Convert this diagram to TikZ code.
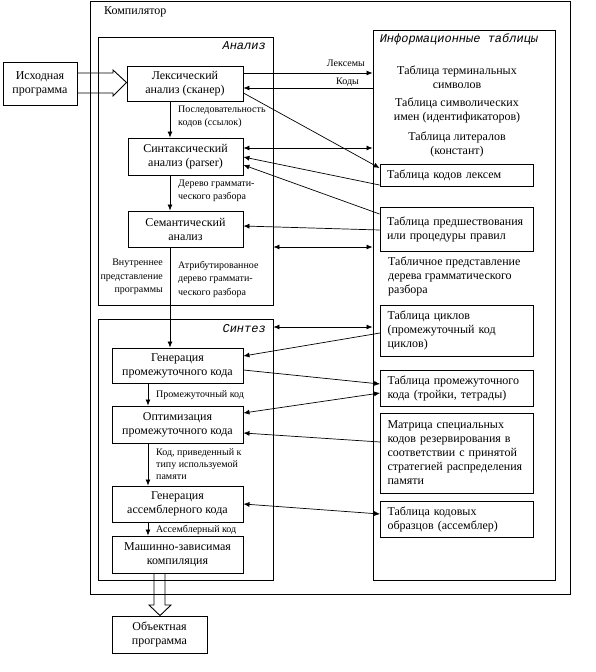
\documentclass[tikz,border=0pt]{standalone}
\usepackage{fontspec}
\setmainfont{Liberation Serif}
\newfontfamily\hdrfont{Liberation Mono}
\usetikzlibrary{arrows.meta}
\begin{document}
\begin{tikzpicture}[x=1pt,y=-1pt,
 frame/.style={draw, line width=0.9pt, inner sep=0pt},
 box/.style={draw, line width=0.9pt, inner sep=0pt, align=center, font=\fontsize{12}{14}\selectfont},
 tbl/.style={draw, line width=0.9pt, inner xsep=7pt, inner ysep=0pt, align=left, text width=139pt, font=\fontsize{12}{14}\selectfont},
 info/.style={inner sep=0pt, align=center, font=\fontsize{12}{14}\selectfont},
 lbl/.style={font=\fontsize{10}{13.5}\selectfont, inner sep=0pt, align=left},
 hdr/.style={font=\hdrfont\itshape\fontsize{12}{14}\selectfont, inner sep=0pt},
 conn/.style={line width=0.7pt, -{Latex[length=6pt,width=5pt]}},
 dconn/.style={line width=0.7pt, {Latex[length=6pt,width=5pt]}-{Latex[length=6pt,width=5pt]}},
 hollow/.style={line width=0.9pt},
]
\useasboundingbox (0,0) rectangle (596,672);
% frames
\node[frame, minimum width=480pt, minimum height=593pt] (comp) at (330,298) {};
\node[frame, minimum width=175pt, minimum height=268pt] (ana) at (185.5,171) {};
\node[frame, minimum width=175pt, minimum height=261pt] (syn) at (185.5,449.5) {};
\node[frame, minimum width=182pt, minimum height=550pt] (inf) at (464,305) {};
\node[anchor=west, inner sep=0pt, font=\fontsize{12}{14}\selectfont] (compt) at (104,12) {Компилятор};
\node[hdr, anchor=east] (anat) at (266,46) {Анализ};
\node[hdr, anchor=east] (synt) at (266,329) {Синтез};
\node[hdr] (inft) at (459,39) {Информационные таблицы};
% left column
\node[box, minimum width=74pt, minimum height=43pt] (src) at (40,83.5) {Исходная\\программа};
\node[box, minimum width=116pt, minimum height=35pt] (lex) at (185,83.5) {Лексический\\анализ (сканер)};
\node[box, minimum width=115pt, minimum height=37pt] (par) at (185.5,156.5) {Синтаксический\\анализ (parser)};
\node[box, minimum width=115pt, minimum height=36pt] (sem) at (185.5,229) {Семантический\\анализ};
\node[box, minimum width=131pt, minimum height=35pt] (gi) at (177.5,365.5) {Генерация\\промежуточного кода};
\node[box, minimum width=131pt, minimum height=37pt] (opt) at (177.5,424.5) {Оптимизация\\промежуточного кода};
\node[box, minimum width=131pt, minimum height=36pt] (ga) at (177.5,504) {Генерация\\ассемблерного кода};
\node[box, minimum width=131pt, minimum height=37pt] (mac) at (177.5,554.5) {Машинно-зависимая\\компиляция};
\node[box, minimum width=95pt, minimum height=37pt] (obj) at (159.5,634.5) {Объектная\\программа};
% labels on left
\node[lbl, anchor=west] (l1) at (178,117) {Последовательность\\кодов (ссылок)};
\node[lbl, anchor=west] (l2) at (178,191) {Дерево граммати-\\ческого разбора};
\node[lbl, anchor=east, align=right] (l3) at (163,277) {Внутреннее\\представление\\программы};
\node[lbl, anchor=west] (l4) at (178,279) {Атрибутированное\\дерево граммати-\\ческого разбора};
\node[lbl, anchor=west] (l5) at (156,395) {Промежуточный код};
\node[lbl, anchor=west, font=\fontsize{10}{12}\selectfont] (l6) at (156,464) {Код, приведенный к\\типу используемой\\памяти};
\node[lbl, anchor=west] (l7) at (156,530) {Ассемблерный код};
\node[lbl, anchor=east] (l8) at (365,63) {Лексемы};
\node[lbl, anchor=east] (l9) at (359,82) {Коды};
% info items
\node[info] (i1) at (457,77) {Таблица терминальных\\символов};
\node[info] (i2) at (457,110) {Таблица символических\\имен (идентификаторов)};
\node[info] (i3) at (457,144) {Таблица литералов\\(констант)};
\node[tbl, minimum height=22pt] (t1) at (456.5,175) {\mbox{Таблица кодов лексем}};
\node[tbl, minimum height=44pt] (t2) at (456.5,229) {\mbox{Таблица предшествования}\\\mbox{или процедуры правил}};
\node[info, anchor=west, align=left] (i4) at (388,276) {Табличное представление\\дерева грамматического\\разбора};
\node[tbl, minimum height=51pt] (t3) at (457,330.5) {\mbox{Таблица циклов}\\\mbox{(промежуточный код}\\\mbox{циклов)}};
\node[tbl, minimum height=36pt] (t4) at (457,388) {\mbox{Таблица промежуточного}\\\mbox{кода (тройки, тетрады)}};
\node[tbl, minimum height=80pt] (t5) at (457,453) {\mbox{Матрица специальных}\\\mbox{кодов резервирования в}\\\mbox{соответствии с принятой}\\\mbox{стратегией распределения}\\\mbox{памяти}};
\node[tbl, minimum height=36pt] (t6) at (457,519) {\mbox{Таблица кодовых}\\\mbox{образцов (ассемблер)}};
% hollow arrows
\draw[hollow] (src.east |- 0,73) -- (113,73) -- (113,70) -- (lex.west |- 0,82.5) -- (113,96) -- (113,93) -- (src.east |- 0,93);
\draw[hollow] (mac.south -| 154,0) -- (154,605) -- (149,605) -- (obj.north -| 160,0) -- (171,605) -- (165,605) -- (mac.south -| 165,0);
% vertical flow
\draw[conn] (lex.south -| 170,0) -- (par.north -| 170,0);
\draw[conn] (par.south -| 170,0) -- (sem.north -| 170,0);
\draw[conn] (sem.south -| 170,0) -- (gi.north -| 170,0);
\draw[conn] (gi.south -| 148,0) -- (opt.north -| 148,0);
\draw[conn] (opt.south -| 148,0) -- (ga.north -| 148,0);
\draw[conn] (ga.south -| 148,0) -- (mac.north -| 148,0);
% connectors to tables
\draw[conn] (lex.east |- 0,73) -- (inf.west |- 0,73);
\draw[conn] (inf.west |- 0,88) -- (lex.east |- 0,88);
\draw[conn] (lex.east |- 0,93) -- (t1.west |- 0,168);
\draw[dconn] (par.east |- 0,148) -- (inf.west |- 0,148);
\draw[conn] (t1.west |- 0,185) -- (par.east |- 0,157);
\draw[conn] (t2.west |- 0,214) -- (par.east |- 0,165);
\draw[conn] (t2.west |- 0,230) -- (sem.east |- 0,226);
\draw[dconn] (ana.east |- 0,247) -- (inf.west |- 0,247);
\draw[dconn] (syn.east |- 0,327) -- (inf.west |- 0,327);
\draw[conn] (t3.west |- 0,333) -- (gi.east |- 0,356);
\draw[conn] (gi.east |- 0,370) -- (t4.west |- 0,384);
\draw[dconn] (opt.east |- 0,413) -- (t4.west |- 0,393);
\draw[conn] (t5.west |- 0,442) -- (opt.east |- 0,433);
\draw[dconn] (ga.east |- 0,504) -- (t6.west |- 0,514);
\end{tikzpicture}
\end{document}
